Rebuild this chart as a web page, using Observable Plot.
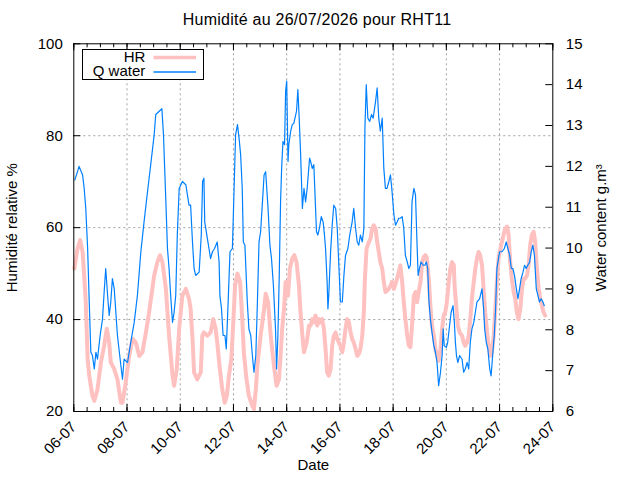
<!DOCTYPE html>
<html><head><meta charset="utf-8">
<script src="https://cdn.jsdelivr.net/npm/d3@7"></script>
<script src="https://cdn.jsdelivr.net/npm/@observablehq/plot@0.6"></script>
<style>
body{margin:0;background:#fff;font-family:"Liberation Sans",Arial,sans-serif;}
#wrap{position:relative;width:640px;height:480px;overflow:hidden;background:#fff;}
#title{height:32px;box-sizing:border-box;padding-top:10px;line-height:20px;font-size:16px;letter-spacing:0.25px;text-align:center;width:634px;color:#000;}
#legend{position:absolute;left:0;top:0;pointer-events:none;}
</style></head><body>
<div id="wrap"><div id="title">Humidité au 26/07/2026 pour RHT11</div><div id="chart"></div></div>
<script>
// Time in days since 06-07 00:00
const hrDay = [0.02,0.14,0.24,0.33,0.39,0.45,0.52,0.58,0.70,0.77,0.89,1.02,1.14,1.24,1.33,1.39,1.52,1.64,1.77,1.83,1.95,2.08,2.21,2.33,2.46,2.58,2.71,2.83,3.02,3.14,3.24,3.33,3.46,3.58,3.71,3.77,3.87,3.96,4.08,4.21,4.33,
4.39,4.46,4.52,4.64,4.77,4.83,4.89,5.02,5.14,5.24,5.33,5.39,5.49,5.58,5.67,5.75,5.83,5.92,6.00,6.06,6.15,6.25,6.33,6.39,6.49,6.58,6.71,6.77,6.84,6.90,7.02,7.15,7.21,7.30,7.40,7.52,7.62,7.71,7.77,7.83,7.90,7.96,8.05,8.12,8.21,8.29,8.37,8.46,8.52,8.59,8.65,8.75,8.84,
8.90,8.96,9.02,9.08,9.15,9.21,9.27,9.33,9.40,9.46,9.52,9.58,9.65,9.71,9.77,9.84,9.90,9.96,10.02,10.09,10.15,10.21,10.27,10.34,10.40,10.46,10.52,10.59,10.65,10.71,10.77,10.84,10.90,10.94,11.00,11.09,11.15,11.21,11.27,11.34,11.40,11.46,11.52,11.59,11.65,11.71,11.77,11.84,11.90,11.96,12.03,12.09,12.15,12.21,12.27,12.34,12.40,12.46,12.53,12.59,12.65,12.71,12.78,12.84,12.90,12.96,13.03,13.09,13.15,13.21,13.27,13.34,13.40,13.46,13.53,13.59,13.65,13.71,
13.78,13.84,13.90,13.96,14.02,14.09,14.15,14.21,14.28,14.31,14.38,14.43,14.50,14.59,14.65,14.71,14.78,14.84,14.90,14.96,15.03,15.09,15.15,15.21,15.27,15.34,15.40,15.46,15.53,15.59,15.65,15.71,15.78,15.84,15.90,15.96,16.03,16.09,16.15,16.21,16.28,16.34,16.40,16.46,16.53,16.59,16.65,16.71,16.78,16.84,16.90,16.96,17.03,17.09,17.15,17.21,17.28,17.34,17.40,17.47,17.53,17.59,17.65,17.71];
const hrVal = [51.1,55.4,57.3,54.7,49.6,43.8,31.4,27.8,23.4,22.3,24.8,30.7,34.3,38.0,35.0,30.7,29.2,27.0,21.9,21.9,26.3,32.1,35.8,35.0,32.1,32.9,37.2,41.6,49.6,52.5,54.0,52.5,46.7,36.5,27.8,25.6,29.2,38.0,45.2,46.7,44.5,
42.3,36.0,28.5,27.0,28.5,36.5,37.2,36.5,37.2,40.1,38.0,35.0,29.2,24.8,21.9,23.4,27.8,31.4,40.1,47.4,50.0,48.2,40.1,32.9,27.0,23.4,21.2,20.5,24.8,30.0,36.5,42.3,45.6,43.8,36.5,30.0,25.6,27.0,32.1,38.0,42.3,48.2,45.2,51.1,53.3,54.0,52.5,47.4,41.6,36.5,32.9,35.0,38.7,
38.7,40.1,39.4,40.9,38.7,40.1,39.4,40.1,38.0,33.6,28.5,27.8,29.2,34.3,36.5,37.2,35.8,35.0,34.3,32.9,35.0,38.0,40.1,39.4,37.2,35.8,35.0,33.6,32.1,32.5,33.6,36.5,41.6,48.9,55.4,56.9,57.6,59.8,60.5,59.8,56.9,54.7,52.5,51.1,48.2,46.0,46.3,46.7,47.4,48.2,46.7,47.8,48.9,50.3,51.8,48.2,43.8,40.1,36.5,34.3,34.0,38.7,45.2,46.0,43.8,46.0,48.2,52.5,53.6,54.0,53.3,48.9,43.0,38.7,36.5,33.6,32.1,31.0,
33.6,38.0,40.9,41.6,43.8,48.2,51.1,52.5,51.8,47.4,42.3,38.7,37.2,36.5,35.0,34.3,35.0,36.5,40.1,44.5,48.2,51.1,53.3,54.7,54.0,51.8,46.7,41.6,37.2,34.3,32.1,32.9,36.5,42.3,48.2,53.3,55.4,56.9,58.4,59.8,60.2,58.4,52.5,48.9,46.0,44.5,41.6,40.1,42.3,46.7,48.9,48.9,49.6,51.8,56.2,58.4,59.1,56.9,51.1,46.7,44.5,43.0,41.6,40.9];

const qDay = [0.04,0.20,0.33,0.39,0.45,0.52,0.58,0.64,0.70,0.77,0.83,0.89,0.99,1.08,1.14,1.20,1.27,1.33,1.39,1.45,1.52,1.64,1.77,1.83,1.89,2.02,2.14,2.27,2.39,2.52,2.64,2.77,2.89,3.02,3.08,3.21,3.31,3.37,3.46,3.52,3.58,3.64,3.71,3.77,3.83,3.89,3.96,4.08,4.21,4.33,
4.39,4.46,4.52,4.58,4.71,4.79,4.84,4.89,4.92,5.02,5.08,5.14,5.21,5.29,5.39,5.46,5.49,5.55,5.61,5.68,5.73,5.80,5.87,5.96,6.02,6.08,6.15,6.21,6.27,6.33,6.37,6.43,6.52,6.58,6.65,6.71,6.77,6.84,6.90,6.96,7.02,7.09,7.15,7.21,7.30,7.37,7.43,7.50,7.58,7.62,7.67,7.72,7.77,7.81,7.86,7.92,7.96,8.00,8.05,8.08,8.15,8.21,8.27,8.37,8.42,8.47,8.52,8.59,8.65,8.71,8.77,8.86,
8.90,8.96,9.02,9.05,9.08,9.12,9.17,9.23,9.30,9.37,9.42,9.46,9.52,9.55,9.58,9.65,9.71,9.77,9.84,9.90,9.96,10.02,10.09,10.15,10.21,10.30,10.37,10.46,10.52,10.59,10.65,10.71,10.77,10.84,10.90,10.94,10.99,11.05,11.12,11.19,11.25,11.34,11.40,11.46,11.52,11.59,11.65,11.71,11.77,11.84,11.90,11.96,12.03,12.09,12.15,12.21,12.27,12.34,12.40,12.46,12.53,12.59,12.65,12.71,12.78,12.84,12.90,12.94,12.99,13.05,13.13,13.19,13.25,13.30,13.34,13.40,13.46,13.53,13.59,13.65,13.71,
13.78,13.84,13.88,13.92,14.00,14.05,14.12,14.18,14.25,14.30,14.34,14.38,14.43,14.50,14.59,14.65,14.71,14.78,14.84,14.90,14.96,15.03,15.09,15.15,15.25,15.34,15.40,15.44,15.50,15.56,15.63,15.68,15.74,15.80,15.85,15.90,15.94,16.00,16.09,16.18,16.25,16.31,16.38,16.44,16.50,16.56,16.63,16.69,16.75,16.81,16.88,16.94,17.00,17.06,17.13,17.19,17.25,17.31,17.38,17.44,17.50,17.56,17.63,17.68];
const qVal = [11.67,12.00,11.79,11.46,10.97,9.99,8.68,7.45,7.37,7.04,7.45,7.28,7.86,8.27,8.92,9.50,8.84,8.35,8.68,9.25,9.00,7.86,7.12,6.79,7.28,7.20,7.69,8.18,8.84,9.91,10.64,11.38,12.04,12.77,13.27,13.35,13.41,12.77,11.13,9.99,9.50,8.84,8.18,8.43,8.84,10.32,11.46,11.63,11.55,11.05,
11.05,10.15,9.50,9.33,9.41,10.32,11.63,11.71,10.64,10.23,9.99,9.74,9.91,9.99,10.15,9.66,8.84,8.52,7.86,7.86,7.53,8.68,9.91,9.99,11.38,12.77,13.02,12.69,12.28,11.46,10.15,10.07,8.68,8.02,7.86,7.37,6.96,7.37,8.68,10.15,10.40,11.13,11.79,11.87,10.97,10.07,9.74,9.09,8.02,7.04,7.86,9.33,11.13,11.95,12.61,12.53,13.84,14.09,12.12,12.53,12.86,13.02,13.06,13.35,13.88,13.18,12.36,10.97,11.46,11.13,11.46,12.20,
12.12,11.95,12.04,11.55,11.05,10.40,10.32,10.48,10.77,10.64,10.32,9.99,9.17,8.51,8.84,9.91,10.56,11.05,10.97,10.48,9.58,8.68,8.68,9.33,9.82,9.99,10.32,10.64,10.97,10.48,10.15,10.07,10.32,10.15,10.48,12.94,14.00,13.18,13.10,13.27,13.18,13.59,13.92,13.18,12.86,13.18,11.95,11.46,11.46,11.63,11.79,11.38,10.81,10.56,10.64,10.73,10.73,10.77,10.48,9.82,9.66,9.50,9.58,11.13,11.46,11.30,10.07,9.33,9.50,9.66,9.58,9.58,9.66,9.50,8.76,8.27,7.94,7.61,7.45,7.20,6.63,
6.96,7.37,8.02,7.61,7.57,7.69,8.10,8.43,8.59,8.18,7.69,7.37,7.20,7.37,7.28,6.96,7.04,7.20,7.04,7.69,8.02,8.18,8.43,8.68,8.76,9.00,8.51,8.02,7.69,7.53,7.04,6.87,7.37,7.86,8.51,9.50,9.66,9.91,9.91,9.99,10.15,9.99,9.82,9.50,9.50,9.33,9.00,8.76,9.00,9.25,9.41,9.58,9.50,9.58,9.66,9.91,10.07,9.82,9.00,8.84,8.68,8.76,8.68,8.59];

const hrTicks = [20,40,60,80,100];
const hrGrid = [40,60,80];
const qTicks = [6,7,8,9,10,11,12,13,14,15];
const dateTickDays = [0,2,4,6,8,10,12,14,16,18];
const minorTickDays = d3.range(0,18.01,0.5);

const W = 640, H = 448;
const mL = 73.3, mR = 87.7, mT = 11.3, mB = 69;
const pw = W - mL - mR, ph = H - mT - mB;
const t0 = Date.UTC(2026, 6, 6);
const toDate = d => new Date(t0 + d * 864e5);
const qToHr = q => 20 + (q - 6) * 80 / 9;
const hrToQ = v => 6 + (v - 20) * 9 / 80;

const hr = hrDay.map((d, i) => ({t: toDate(d), v: hrVal[i]}));
const qw = qDay.map((d, i) => ({t: toDate(d), v: qToHr(qVal[i])}));
const majorDates = dateTickDays.map(toDate);
const gridDates = majorDates.slice(1, -1);
const minorDates = minorTickDays.map(toDate);
const qTickPos = qTicks.map(qToHr);

const grid = {stroke: "#a0a0a0", strokeDasharray: "2,3", strokeWidth: 1};

const chart = Plot.plot({
  width: W, height: H,
  marginLeft: mL, marginRight: mR, marginTop: mT, marginBottom: mB,
  style: {fontSize: "15px", fontFamily: "'Liberation Sans', Arial, sans-serif", color: "#000", background: "#fff", overflow: "visible"},
  x: {type: "utc", domain: [toDate(0), toDate(18)]},
  y: {domain: [20, 100]},
  marks: [
    Plot.ruleX(gridDates, {x: d => d, ...grid}),
    Plot.ruleY(hrGrid, {y: d => d, ...grid}),
    Plot.line(hr, {x: "t", y: "v", stroke: "#ffc0c0", strokeWidth: 4}),
    Plot.line(qw, {x: "t", y: "v", stroke: "#0080ff", strokeWidth: 1.2}),
    Plot.frame({stroke: "#000", strokeWidth: 1}),
    Plot.tickX(majorDates, {x: d => d, insetTop: ph - 7, stroke: "#000"}),
    Plot.tickX(minorDates, {x: d => d, insetTop: ph - 4, stroke: "#000"}),
    Plot.tickX(majorDates, {x: d => d, insetBottom: ph - 7, stroke: "#000"}),
    Plot.tickX(minorDates, {x: d => d, insetBottom: ph - 4, stroke: "#000"}),
    Plot.tickY(hrTicks, {y: d => d, insetRight: pw - 7, stroke: "#000"}),
    Plot.tickY(qTickPos, {y: d => d, insetLeft: pw - 7, stroke: "#000"}),
    Plot.axisX(majorDates, {tickSize: 0, tickPadding: 13, tickRotate: -45, tickFormat: d3.utcFormat("%d-%m"), label: null}),
    Plot.axisY(hrTicks, {anchor: "left", tickSize: 0, tickPadding: 11, label: null}),
    Plot.axisY(qTickPos, {anchor: "right", tickSize: 0, tickPadding: 13, tickFormat: v => String(Math.round(hrToQ(v))), label: null}),
    Plot.text(["Humidité relative %"], {text: d => d, frameAnchor: "left", textAnchor: "middle", dx: -61.6, rotate: -90}),
    Plot.text(["Water content g.m³"], {text: d => d, frameAnchor: "right", textAnchor: "middle", dx: 48.7, rotate: -90}),
    Plot.text(["Date"], {text: d => d, frameAnchor: "bottom", dy: 58.5})
  ]
});
document.getElementById("chart").appendChild(chart);

// Legend (inside plot area, like gnuplot key)
const leg = d3.select("#wrap").append("svg").attr("id", "legend").attr("width", 640).attr("height", 480)
  .style("font-family", "'Liberation Sans', Arial, sans-serif").style("font-size", "15px");
leg.append("rect").attr("x", 82.5).attr("y", 49.5).attr("width", 121).attr("height", 30)
  .attr("fill", "#fff").attr("stroke", "#000");
const legendItems = [
  {label: "HR", color: "#ffc0c0", width: 3.5, ty: 61.5, ly: 57.5},
  {label: "Q water", color: "#0080ff", width: 1.5, ty: 76, ly: 72}
];
legendItems.forEach(it => {
  leg.append("text").attr("x", 145.3).attr("y", it.ty).attr("text-anchor", "end").text(it.label);
  leg.append("line").attr("x1", 153.5).attr("x2", 196).attr("y1", it.ly).attr("y2", it.ly)
    .attr("stroke", it.color).attr("stroke-width", it.width);
});
</script>
</body></html>
